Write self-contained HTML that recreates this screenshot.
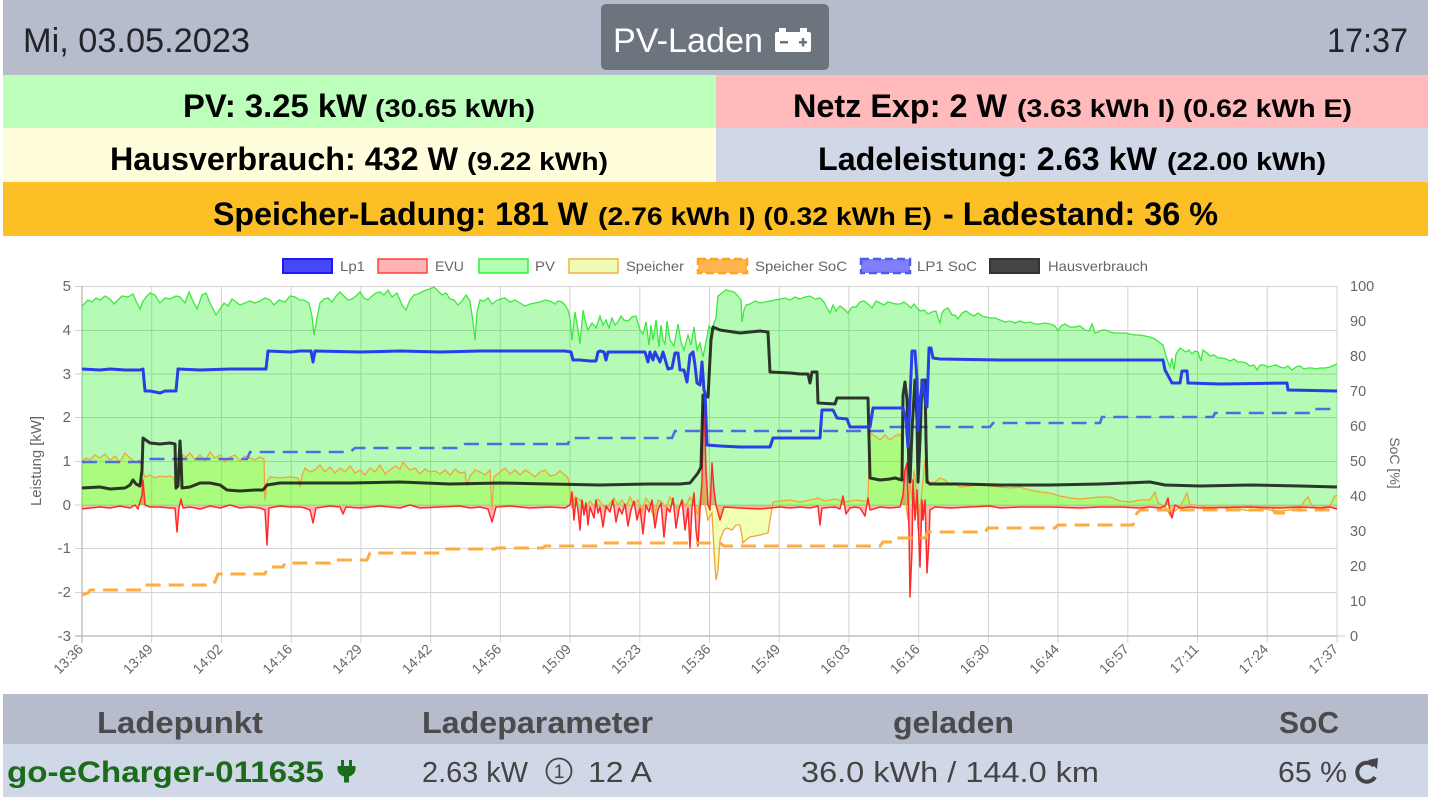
<!DOCTYPE html>
<html><head><meta charset="utf-8"><style>
html,body{margin:0;padding:0;background:#fff;width:1436px;height:797px;overflow:hidden}
svg{display:block}
text{font-family:"Liberation Sans","DejaVu Sans",sans-serif}
.b{font-weight:bold}
</style></head><body>
<svg width="1436" height="797" viewBox="0 0 1436 797" xmlns="http://www.w3.org/2000/svg">
<!-- header -->
<rect x="3" y="0" width="1425" height="75" fill="#b6bccb"/>
<text x="23" y="52" font-size="34" fill="#212529" textLength="227" lengthAdjust="spacingAndGlyphs">Mi, 03.05.2023</text>
<rect x="601" y="4" width="228" height="66" rx="5" fill="#6c757d"/>
<text x="613" y="52" font-size="34" fill="#fff" textLength="150" lengthAdjust="spacingAndGlyphs">PV-Laden</text>
<rect x="779" y="28" width="7" height="5" fill="#fff"/>
<rect x="800" y="28" width="7" height="5" fill="#fff"/>
<rect x="775" y="32" width="36" height="20" rx="2" fill="#fff"/>
<rect x="780" y="41" width="8" height="2.5" fill="#6c757d"/>
<rect x="799" y="41" width="8" height="2.5" fill="#6c757d"/>
<rect x="801.8" y="38" width="2.5" height="8.5" fill="#6c757d"/>
<text x="1327" y="52" font-size="34" fill="#212529" textLength="81" lengthAdjust="spacingAndGlyphs">17:37</text>

<!-- rows -->
<rect x="3" y="75" width="713" height="53" fill="#bbffbb"/>
<rect x="716" y="75" width="712" height="53" fill="#ffbbbb"/>
<rect x="3" y="128" width="713" height="54" fill="#fffddc"/>
<rect x="716" y="128" width="712" height="54" fill="#d0d7e7"/>
<rect x="3" y="182" width="1425" height="54" fill="#fcbf26"/>

<text class="b" x="183" y="117" font-size="32" fill="#000" textLength="184" lengthAdjust="spacingAndGlyphs">PV: 3.25 kW</text>
<text class="b" x="375" y="117" font-size="25" fill="#000" textLength="160" lengthAdjust="spacingAndGlyphs">(30.65 kWh)</text>
<text class="b" x="793" y="117" font-size="32" fill="#000" textLength="214" lengthAdjust="spacingAndGlyphs">Netz Exp: 2 W</text>
<text class="b" x="1017" y="117" font-size="25" fill="#000" textLength="335" lengthAdjust="spacingAndGlyphs">(3.63 kWh I) (0.62 kWh E)</text>

<text class="b" x="110" y="170" font-size="32" fill="#000" textLength="348" lengthAdjust="spacingAndGlyphs">Hausverbrauch: 432 W</text>
<text class="b" x="467" y="170" font-size="25" fill="#000" textLength="141" lengthAdjust="spacingAndGlyphs">(9.22 kWh)</text>
<text class="b" x="818" y="170" font-size="32" fill="#000" textLength="339" lengthAdjust="spacingAndGlyphs">Ladeleistung: 2.63 kW</text>
<text class="b" x="1167" y="170" font-size="25" fill="#000" textLength="159" lengthAdjust="spacingAndGlyphs">(22.00 kWh)</text>

<text class="b" x="213" y="225" font-size="32" fill="#000" textLength="375" lengthAdjust="spacingAndGlyphs">Speicher-Ladung: 181 W</text>
<text class="b" x="598" y="225" font-size="25" fill="#000" textLength="334" lengthAdjust="spacingAndGlyphs">(2.76 kWh I) (0.32 kWh E)</text>
<text class="b" x="943" y="225" font-size="32" fill="#000" textLength="275" lengthAdjust="spacingAndGlyphs">- Ladestand: 36 %</text>

<!-- legend -->
<g font-size="14" fill="#666">
<rect x="283" y="259" width="49" height="14" fill="#4747f5" stroke="#1a1aff" stroke-width="2"/>
<text x="340" y="271" textLength="25" lengthAdjust="spacingAndGlyphs">Lp1</text>
<rect x="378" y="259" width="49" height="14" fill="#ffb3b3" stroke="#ff4040" stroke-width="1.5"/>
<text x="435" y="271" textLength="29" lengthAdjust="spacingAndGlyphs">EVU</text>
<rect x="479" y="259" width="49" height="14" fill="#b3ffb3" stroke="#33ee33" stroke-width="1.5"/>
<text x="535" y="271" textLength="20" lengthAdjust="spacingAndGlyphs">PV</text>
<rect x="569" y="259" width="49" height="14" fill="#eefcb3" stroke="#f5b042" stroke-width="1.5"/>
<text x="626" y="271" textLength="58" lengthAdjust="spacingAndGlyphs">Speicher</text>
<rect x="698" y="259" width="49" height="14" fill="#ffb54d" stroke="#ffa31a" stroke-width="2.5" stroke-dasharray="8 4"/>
<text x="755" y="271" textLength="92" lengthAdjust="spacingAndGlyphs">Speicher SoC</text>
<rect x="861" y="259" width="49" height="14" fill="#7f7ff9" stroke="#4a5fe8" stroke-width="2.5" stroke-dasharray="8 4"/>
<text x="917" y="271" textLength="60" lengthAdjust="spacingAndGlyphs">LP1 SoC</text>
<rect x="990" y="259" width="49" height="14" fill="#444" stroke="#333" stroke-width="2"/>
<text x="1048" y="271" textLength="100" lengthAdjust="spacingAndGlyphs">Hausverbrauch</text>
</g>

<!-- grid -->
<g stroke="#d2d2d2" stroke-width="1">
<line x1="75" y1="286.5" x2="1337" y2="286.5"/>
<line x1="75" y1="330.5" x2="1337" y2="330.5"/>
<line x1="75" y1="374" x2="1337" y2="374"/>
<line x1="75" y1="417.5" x2="1337" y2="417.5"/>
<line x1="75" y1="461.5" x2="1337" y2="461.5"/>
<line x1="75" y1="505" x2="1337" y2="505"/>
<line x1="75" y1="548.5" x2="1337" y2="548.5"/>
<line x1="75" y1="592.5" x2="1337" y2="592.5"/>
<line x1="151.7" y1="286" x2="151.7" y2="643"/>
<line x1="221.4" y1="286" x2="221.4" y2="643"/>
<line x1="291.2" y1="286" x2="291.2" y2="643"/>
<line x1="360.9" y1="286" x2="360.9" y2="643"/>
<line x1="430.6" y1="286" x2="430.6" y2="643"/>
<line x1="500.3" y1="286" x2="500.3" y2="643"/>
<line x1="570" y1="286" x2="570" y2="643"/>
<line x1="639.8" y1="286" x2="639.8" y2="643"/>
<line x1="709.5" y1="286" x2="709.5" y2="643"/>
<line x1="779.2" y1="286" x2="779.2" y2="643"/>
<line x1="848.9" y1="286" x2="848.9" y2="643"/>
<line x1="918.6" y1="286" x2="918.6" y2="643"/>
<line x1="988.4" y1="286" x2="988.4" y2="643"/>
<line x1="1058" y1="286" x2="1058" y2="643"/>
<line x1="1127.8" y1="286" x2="1127.8" y2="643"/>
<line x1="1197.5" y1="286" x2="1197.5" y2="643"/>
<line x1="1267.2" y1="286" x2="1267.2" y2="643"/>
<line x1="1337" y1="286" x2="1337" y2="643"/>
<line x1="1337" y1="636" x2="1345" y2="636"/>
</g>
<g stroke="#b5b5b5" stroke-width="1.2">
<line x1="82" y1="286" x2="82" y2="643"/>
<line x1="75" y1="636" x2="1337" y2="636"/>
</g>

<!-- ===== FILLS ===== -->
<!-- Speicher fill -->
<polygon fill="rgba(205,255,0,0.3)" stroke="none" points="82,505 82,462 86,458 90,460 95,455 100,458 105,454 110,460 115,456 120,462 125,453 130,458 135,462 140,460 143,472 145,477 150,475 155,478 160,476 165,477 170,476 174,478 176,490 178,484 180,470 182,455 186,457 190,453 195,460 200,455 205,461 210,452 215,458 220,455 225,462 230,457 235,455 240,461 245,456 250,458 255,460 260,457 264,459 265,500 267,482 270,477 280,478 290,477 298,478 300,487 302,476 305,468 310,472 315,470 320,465 325,472 330,467 335,473 340,468 345,472 350,466 355,473 360,470 365,475 370,468 375,472 380,465 385,474 390,470 395,466 400,469 403,462 406,466 410,470 415,468 420,474 425,469 430,472 435,471 440,474 445,470 450,475 455,469 460,473 465,472 467,486 470,476 475,470 480,472 485,475 490,470 492,510 494,477 500,472 505,468 510,474 515,470 520,475 525,470 530,473 535,477 540,472 545,470 550,476 555,475 560,471 565,475 568,478 570,490 572,508 575,497 580,500 585,510 590,501 594,506 598,499 602,504 606,510 610,503 614,498 618,505 622,500 626,507 630,497 634,505 638,500 642,512 646,498 650,504 654,520 658,500 662,502 666,508 670,497 674,503 678,512 682,500 686,506 690,497 694,505 698,515 700,500 703,480 705,505 708,520 712,513 714,550 716,580 718,570 720,540 724,530 727,528 732,530 736,525 740,525 742,536 743,543 746,540 750,537 760,535 768,533 770,520 773,502 780,501 790,500 800,502 810,500 818,498 825,501 835,499 845,502 855,500 865,501 868,500 870,433 875,436 880,440 885,435 890,440 895,436 900,434 902,440 903,480 906,505 908,520 910,480 912,500 914,470 916,485 918,530 920,510 922,490 925,460 928,480 930,483 935,482 940,478 945,480 950,485 955,483 960,487 970,486 980,484 990,486 1000,487 1010,488 1020,487 1030,490 1040,492 1050,493 1060,496 1070,498 1080,499 1090,498 1100,497 1110,497 1120,501 1130,502 1140,500 1150,500 1155,492 1158,503 1162,505 1166,508 1170,515 1172,510 1175,511 1180,507 1185,497 1187,493 1190,505 1195,505 1200,506 1210,508 1220,507 1230,509 1240,509 1250,511 1260,508 1270,510 1280,511 1290,510 1300,508 1305,500 1308,497 1312,506 1320,509 1330,506 1334,497 1337,495 1337,505"/>
<!-- PV fill -->
<polygon fill="rgba(0,240,0,0.29)" stroke="none" points="82,505 82,306 88,300 92,302 96,298 100,300 105,296 110,299 114,304 118,300 122,296 128,297 133,294 137,303 140,309 143,301 147,296 150,293 155,295 160,303 165,298 170,299 176,296 180,297 185,303 189,292 193,301 197,309 202,295 206,293 210,303 214,311 216,315 220,309 224,303 228,306 232,299 236,302 240,305 245,303 250,301 255,303 260,301 265,298 270,300 274,305 279,300 285,302 290,296 295,297 300,300 304,300 309,303 312,316 314,335 317,318 320,303 324,299 328,298 332,302 336,296 340,292 344,296 348,300 352,299 356,296 360,292 364,298 368,300 372,296 376,293 380,292 384,295 388,290 392,297 397,293 402,305 406,310 410,300 414,295 418,294 422,292 426,290 430,289 434,287 438,291 442,295 446,293 450,299 454,300 458,305 462,301 466,295 470,301 473,322 475,340 477,312 480,300 484,301 488,298 492,304 496,301 500,299 505,298 510,302 515,300 520,303 525,306 530,304 535,303 540,302 545,300 550,301 555,304 558,301 562,302 565,305 568,310 570,318 572,340 575,312 578,330 580,344 583,310 585,320 588,330 592,323 596,328 600,316 603,325 606,320 609,328 612,318 615,325 618,322 621,316 624,320 628,321 632,317 636,316 640,330 643,334 646,322 649,345 651,325 653,340 656,320 659,347 661,325 663,340 665,344 667,321 670,340 674,346 678,324 681,342 684,350 688,335 691,345 694,327 697,350 700,343 703,357 706,342 709,326 712,330 714,323 716,318 718,296 722,293 726,290 730,291 734,292 738,296 741,300 742,322 744,310 746,305 750,304 755,301 760,303 765,302 770,301 775,300 780,299 785,298 790,300 795,297 800,299 805,297 810,296 815,299 820,298 824,302 827,308 830,313 833,305 836,311 840,306 844,309 848,313 852,307 856,307 860,302 864,301 868,304 872,308 876,301 880,303 884,305 888,302 892,303 896,304 900,304 904,302 908,305 911,308 914,304 917,308 920,311 924,310 928,314 932,312 936,311 938,318 940,323 942,313 944,310 948,308 952,315 955,315 958,319 962,313 966,311 970,314 974,316 978,313 982,316 986,317 990,318 995,318 1000,320 1005,322 1010,321 1015,323 1020,321 1025,323 1030,322 1035,324 1040,324 1045,323 1050,324 1055,326 1058,331 1061,326 1065,324 1070,327 1075,327 1080,326 1085,330 1089,331 1092,324 1095,333 1098,332 1102,330 1106,330 1110,332 1115,333 1120,333 1125,333 1130,334 1135,335 1140,335 1145,336 1150,337 1155,339 1160,343 1163,345 1166,356 1168,362 1170,367 1172,358 1174,370 1176,354 1180,348 1183,350 1186,352 1189,350 1192,354 1195,351 1198,352 1201,361 1203,350 1207,353 1210,356 1214,355 1218,358 1222,358 1226,359 1230,361 1234,359 1238,362 1242,362 1246,363 1250,366 1254,365 1257,370 1260,365 1264,365 1268,367 1272,366 1276,365 1280,367 1284,368 1288,366 1292,370 1296,367 1300,366 1304,369 1308,368 1312,368 1316,369 1320,368 1325,368 1330,367 1337,364 1337,505"/>
<!-- EVU fill -->
<polygon fill="rgba(255,20,20,0.3)" stroke="none" points="82,505 82,509 90,508 100,507 110,508 120,506 130,508 135,505 138,509 142,495 143,480 145,505 150,507 160,507 170,508 175,508 177,532 179,508 181,499 183,508 190,507 200,509 210,506 220,508 230,505 240,508 250,507 260,508 265,510 267,545 269,508 280,506 290,507 300,507 305,508 310,510 313,523 316,508 330,506 340,507 343,514 346,507 360,508 380,506 400,508 410,505 420,508 440,507 460,506 470,508 480,507 488,509 492,522 496,507 510,506 530,508 550,507 565,508 570,505 572,492 574,520 576,498 578,510 580,530 582,500 584,515 586,503 588,525 590,507 594,518 596,500 598,513 600,507 603,527 606,506 610,512 613,500 616,522 619,508 622,514 625,504 628,526 631,510 634,501 637,520 640,508 643,534 646,505 649,512 652,500 655,528 658,510 661,503 664,537 667,508 670,512 673,498 676,528 679,509 682,500 685,530 688,508 690,548 692,508 694,493 696,530 698,546 700,510 702,480 703,430 704,403 706,470 708,505 710,510 712,463 714,490 716,505 720,520 724,507 740,508 760,509 770,508 780,507 790,508 800,507 810,508 818,506 820,525 822,508 835,507 840,509 843,496 846,514 850,508 855,507 860,508 865,516 868,498 870,510 880,507 890,508 900,507 903,495 905,470 907,463 909,530 910,597 912,550 913,480 915,520 917,490 920,567 922,500 923,520 925,500 927,573 929,540 930,510 935,507 950,508 970,507 990,506 1000,508 1020,507 1050,507 1080,508 1100,507 1120,507 1140,508 1150,507 1160,508 1165,506 1168,498 1170,512 1172,518 1175,505 1180,508 1190,507 1200,508 1250,507 1280,508 1300,507 1320,508 1330,507 1337,509 1337,505"/>

<!-- ===== LINES ===== -->
<!-- Speicher line -->
<polyline fill="none" stroke="#f2a43a" stroke-width="1.3" points="82,462 86,458 90,460 95,455 100,458 105,454 110,460 115,456 120,462 125,453 130,458 135,462 140,460 143,472 145,477 150,475 155,478 160,476 165,477 170,476 174,478 176,490 178,484 180,470 182,455 186,457 190,453 195,460 200,455 205,461 210,452 215,458 220,455 225,462 230,457 235,455 240,461 245,456 250,458 255,460 260,457 264,459 265,500 267,482 270,477 280,478 290,477 298,478 300,487 302,476 305,468 310,472 315,470 320,465 325,472 330,467 335,473 340,468 345,472 350,466 355,473 360,470 365,475 370,468 375,472 380,465 385,474 390,470 395,466 400,469 403,462 406,466 410,470 415,468 420,474 425,469 430,472 435,471 440,474 445,470 450,475 455,469 460,473 465,472 467,486 470,476 475,470 480,472 485,475 490,470 492,510 494,477 500,472 505,468 510,474 515,470 520,475 525,470 530,473 535,477 540,472 545,470 550,476 555,475 560,471 565,475 568,478 570,490 572,508 575,497 580,500 585,510 590,501 594,506 598,499 602,504 606,510 610,503 614,498 618,505 622,500 626,507 630,497 634,505 638,500 642,512 646,498 650,504 654,520 658,500 662,502 666,508 670,497 674,503 678,512 682,500 686,506 690,497 694,505 698,515 700,500 703,480 705,505 708,520 712,513 714,550 716,580 718,570 720,540 724,530 727,528 732,530 736,525 740,525 742,536 743,543 746,540 750,537 760,535 768,533 770,520 773,502 780,501 790,500 800,502 810,500 818,498 825,501 835,499 845,502 855,500 865,501 868,500 870,433 875,436 880,440 885,435 890,440 895,436 900,434 902,440 903,480 906,505 908,520 910,480 912,500 914,470 916,485 918,530 920,510 922,490 925,460 928,480 930,483 935,482 940,478 945,480 950,485 955,483 960,487 970,486 980,484 990,486 1000,487 1010,488 1020,487 1030,490 1040,492 1050,493 1060,496 1070,498 1080,499 1090,498 1100,497 1110,497 1120,501 1130,502 1140,500 1150,500 1155,492 1158,503 1162,505 1166,508 1170,515 1172,510 1175,511 1180,507 1185,497 1187,493 1190,505 1195,505 1200,506 1210,508 1220,507 1230,509 1240,509 1250,511 1260,508 1270,510 1280,511 1290,510 1300,508 1305,500 1308,497 1312,506 1320,509 1330,506 1334,497 1337,495"/>
<!-- PV line -->
<polyline fill="none" stroke="#3ee83e" stroke-width="1.3" points="82,306 88,300 92,302 96,298 100,300 105,296 110,299 114,304 118,300 122,296 128,297 133,294 137,303 140,309 143,301 147,296 150,293 155,295 160,303 165,298 170,299 176,296 180,297 185,303 189,292 193,301 197,309 202,295 206,293 210,303 214,311 216,315 220,309 224,303 228,306 232,299 236,302 240,305 245,303 250,301 255,303 260,301 265,298 270,300 274,305 279,300 285,302 290,296 295,297 300,300 304,300 309,303 312,316 314,335 317,318 320,303 324,299 328,298 332,302 336,296 340,292 344,296 348,300 352,299 356,296 360,292 364,298 368,300 372,296 376,293 380,292 384,295 388,290 392,297 397,293 402,305 406,310 410,300 414,295 418,294 422,292 426,290 430,289 434,287 438,291 442,295 446,293 450,299 454,300 458,305 462,301 466,295 470,301 473,322 475,340 477,312 480,300 484,301 488,298 492,304 496,301 500,299 505,298 510,302 515,300 520,303 525,306 530,304 535,303 540,302 545,300 550,301 555,304 558,301 562,302 565,305 568,310 570,318 572,340 575,312 578,330 580,344 583,310 585,320 588,330 592,323 596,328 600,316 603,325 606,320 609,328 612,318 615,325 618,322 621,316 624,320 628,321 632,317 636,316 640,330 643,334 646,322 649,345 651,325 653,340 656,320 659,347 661,325 663,340 665,344 667,321 670,340 674,346 678,324 681,342 684,350 688,335 691,345 694,327 697,350 700,343 703,357 706,342 709,326 712,330 714,323 716,318 718,296 722,293 726,290 730,291 734,292 738,296 741,300 742,322 744,310 746,305 750,304 755,301 760,303 765,302 770,301 775,300 780,299 785,298 790,300 795,297 800,299 805,297 810,296 815,299 820,298 824,302 827,308 830,313 833,305 836,311 840,306 844,309 848,313 852,307 856,307 860,302 864,301 868,304 872,308 876,301 880,303 884,305 888,302 892,303 896,304 900,304 904,302 908,305 911,308 914,304 917,308 920,311 924,310 928,314 932,312 936,311 938,318 940,323 942,313 944,310 948,308 952,315 955,315 958,319 962,313 966,311 970,314 974,316 978,313 982,316 986,317 990,318 995,318 1000,320 1005,322 1010,321 1015,323 1020,321 1025,323 1030,322 1035,324 1040,324 1045,323 1050,324 1055,326 1058,331 1061,326 1065,324 1070,327 1075,327 1080,326 1085,330 1089,331 1092,324 1095,333 1098,332 1102,330 1106,330 1110,332 1115,333 1120,333 1125,333 1130,334 1135,335 1140,335 1145,336 1150,337 1155,339 1160,343 1163,345 1166,356 1168,362 1170,367 1172,358 1174,370 1176,354 1180,348 1183,350 1186,352 1189,350 1192,354 1195,351 1198,352 1201,361 1203,350 1207,353 1210,356 1214,355 1218,358 1222,358 1226,359 1230,361 1234,359 1238,362 1242,362 1246,363 1250,366 1254,365 1257,370 1260,365 1264,365 1268,367 1272,366 1276,365 1280,367 1284,368 1288,366 1292,370 1296,367 1300,366 1304,369 1308,368 1312,368 1316,369 1320,368 1325,368 1330,367 1337,364"/>
<!-- EVU line -->
<polyline fill="none" stroke="#ff2a2a" stroke-width="1.5" stroke-linejoin="round" points="82,509 90,508 100,507 110,508 120,506 130,508 135,505 138,509 142,495 143,480 145,505 150,507 160,507 170,508 175,508 177,532 179,508 181,499 183,508 190,507 200,509 210,506 220,508 230,505 240,508 250,507 260,508 265,510 267,545 269,508 280,506 290,507 300,507 305,508 310,510 313,523 316,508 330,506 340,507 343,514 346,507 360,508 380,506 400,508 410,505 420,508 440,507 460,506 470,508 480,507 488,509 492,522 496,507 510,506 530,508 550,507 565,508 570,505 572,492 574,520 576,498 578,510 580,530 582,500 584,515 586,503 588,525 590,507 594,518 596,500 598,513 600,507 603,527 606,506 610,512 613,500 616,522 619,508 622,514 625,504 628,526 631,510 634,501 637,520 640,508 643,534 646,505 649,512 652,500 655,528 658,510 661,503 664,537 667,508 670,512 673,498 676,528 679,509 682,500 685,530 688,508 690,548 692,508 694,493 696,530 698,546 700,510 702,480 703,430 704,403 706,470 708,505 710,510 712,463 714,490 716,505 720,520 724,507 740,508 760,509 770,508 780,507 790,508 800,507 810,508 818,506 820,525 822,508 835,507 840,509 843,496 846,514 850,508 855,507 860,508 865,516 868,498 870,510 880,507 890,508 900,507 903,495 905,470 907,463 909,530 910,597 912,550 913,480 915,520 917,490 920,567 922,500 923,520 925,500 927,573 929,540 930,510 935,507 950,508 970,507 990,506 1000,508 1020,507 1050,507 1080,508 1100,507 1120,507 1140,508 1150,507 1160,508 1165,506 1168,498 1170,512 1172,518 1175,505 1180,508 1190,507 1200,508 1250,507 1280,508 1300,507 1320,508 1330,507 1337,509"/>

<!-- Speicher SoC -->
<polyline fill="none" stroke="#ffab40" stroke-width="3" stroke-dasharray="15 8" points="82,595 88,593 90,590 143,590 145,585 210,585 212,582 215,582 218,574 265,574 268,567 283,567 285,563 330,563 332,560 367,560 370,553 440,553 443,549 495,549 497,548 543,548 545,546 600,546 603,543 720,543 724,546 880,546 883,542 895,542 897,538 925,538 928,532 985,532 988,528 1055,528 1058,525 1133,525 1137,513 1140,510 1273,510 1275,513 1287,513 1290,510 1337,510"/>
<!-- LP1 SoC -->
<polyline fill="none" stroke="#4f6de0" stroke-width="2.6" stroke-dasharray="15 8" points="82,462 143,462 145,459 247,459 250,452 350,452 355,448 460,448 465,444 568,444 570,438 672,438 675,431 885,431 887,427 990,427 993,423 1100,423 1102,417 1213,417 1215,413 1313,413 1315,409 1337,409"/>

<!-- Hausverbrauch -->
<polyline fill="none" stroke="rgba(20,20,20,0.85)" stroke-width="3" stroke-linejoin="round" points="82,488 100,487 110,489 125,488 130,485 133,480 136,484 140,486 142,470 143,438 150,443 160,444 170,443 175,444 176,488 178,486 179,460 180,441 181,458 182,488 190,487 200,483 210,483 220,485 227,490 240,491 255,490 263,490 267,485 280,483 300,483 350,483 400,482 450,484 500,483 550,484 600,485 650,484 680,484 690,483 694,478 698,473 701,467 703,395 706,396 708,397 711,340 713,327 720,330 740,333 760,331 768,332 770,372 790,373 800,374 808,374 810,383 812,372 817,372 818,403 835,404 837,398 840,398 860,398 868,398 870,478 880,480 890,479 895,478 902,480 903,395 905,382 907,400 909,470 910,482 912,430 915,380 917,420 918,482 920,440 922,380 925,380 926,440 927,482 930,484 960,484 1000,485 1050,485 1100,484 1150,482 1165,485 1200,486 1250,485 1300,486 1337,487"/>

<!-- Lp1 -->
<polyline fill="none" stroke="#2a3de6" stroke-width="3" stroke-linejoin="round" points="82,369 100,370 110,369 125,370 140,370 143,369 145,391 150,391 160,393 165,391 176,391 178,369 200,370 230,369 266,369 268,351 290,352 300,351 311,351 313,362 315,351 360,352 400,351 440,352 480,351 520,351 565,351 571,352 573,360 580,360 590,361 596,361 598,352 600,351 604,352 606,360 608,352 640,352 645,352 648,362 650,352 653,360 655,352 660,362 663,352 668,369 672,368 675,353 678,353 680,370 684,370 687,382 690,355 693,352 695,365 697,383 700,385 702,362 704,390 705,393 707,445 720,446 740,447 760,447 770,447 773,438 800,438 820,438 822,410 833,410 837,418 847,419 850,427 870,427 873,408 903,408 906,420 908,447 910,400 912,351 915,351 917,380 918,430 920,400 923,380 925,400 927,407 929,348 931,348 933,358 940,359 1000,360 1100,360 1163,360 1165,370 1172,383 1180,383 1182,371 1187,371 1188,383 1220,384 1287,383 1288,390 1337,391"/>

<!-- axis labels -->
<g font-size="15" fill="#666" text-anchor="end">
<text x="71" y="291">5</text>
<text x="71" y="335">4</text>
<text x="71" y="379">3</text>
<text x="71" y="422">2</text>
<text x="71" y="466">1</text>
<text x="71" y="510">0</text>
<text x="71" y="553">-1</text>
<text x="71" y="597">-2</text>
<text x="71" y="641">-3</text>
</g>
<g font-size="14.5" fill="#666">
<text x="1350" y="291">100</text>
<text x="1350" y="326">90</text>
<text x="1350" y="361">80</text>
<text x="1350" y="396">70</text>
<text x="1350" y="431">60</text>
<text x="1350" y="466">50</text>
<text x="1350" y="501">40</text>
<text x="1350" y="536">30</text>
<text x="1350" y="571">20</text>
<text x="1350" y="606">10</text>
<text x="1350" y="641">0</text>
</g>
<text x="41" y="461" font-size="14.5" fill="#666" text-anchor="middle" transform="rotate(-90 41 461)" textLength="90" lengthAdjust="spacingAndGlyphs">Leistung [kW]</text>
<text x="1390" y="463" font-size="14" fill="#666" text-anchor="middle" transform="rotate(90 1390 463)">SoC [%]</text>

<g font-size="14" fill="#666" text-anchor="end">
<text x="84" y="650" transform="rotate(-45 84 650)">13:36</text>
<text x="153.7" y="650" transform="rotate(-45 153.7 650)">13:49</text>
<text x="223.4" y="650" transform="rotate(-45 223.4 650)">14:02</text>
<text x="293.2" y="650" transform="rotate(-45 293.2 650)">14:16</text>
<text x="362.9" y="650" transform="rotate(-45 362.9 650)">14:29</text>
<text x="432.6" y="650" transform="rotate(-45 432.6 650)">14:42</text>
<text x="502.3" y="650" transform="rotate(-45 502.3 650)">14:56</text>
<text x="572" y="650" transform="rotate(-45 572 650)">15:09</text>
<text x="641.8" y="650" transform="rotate(-45 641.8 650)">15:23</text>
<text x="711.5" y="650" transform="rotate(-45 711.5 650)">15:36</text>
<text x="781.2" y="650" transform="rotate(-45 781.2 650)">15:49</text>
<text x="850.9" y="650" transform="rotate(-45 850.9 650)">16:03</text>
<text x="920.6" y="650" transform="rotate(-45 920.6 650)">16:16</text>
<text x="990.4" y="650" transform="rotate(-45 990.4 650)">16:30</text>
<text x="1060" y="650" transform="rotate(-45 1060 650)">16:44</text>
<text x="1129.8" y="650" transform="rotate(-45 1129.8 650)">16:57</text>
<text x="1199.5" y="650" transform="rotate(-45 1199.5 650)">17:11</text>
<text x="1269.2" y="650" transform="rotate(-45 1269.2 650)">17:24</text>
<text x="1339" y="650" transform="rotate(-45 1339 650)">17:37</text>
</g>

<!-- table -->
<rect x="3" y="694" width="1425" height="50" fill="#b6bccb"/>
<rect x="3" y="744" width="1425" height="53" fill="#d0d7e7"/>
<g font-size="31" fill="#4b4b4b">
<text class="b" x="97" y="733" textLength="166" lengthAdjust="spacingAndGlyphs">Ladepunkt</text>
<text class="b" x="422" y="733" textLength="231" lengthAdjust="spacingAndGlyphs">Ladeparameter</text>
<text class="b" x="893" y="733" textLength="121" lengthAdjust="spacingAndGlyphs">geladen</text>
<text class="b" x="1279" y="733" textLength="60" lengthAdjust="spacingAndGlyphs">SoC</text>
</g>
<text class="b" x="7" y="782" font-size="30" fill="#1a6b1a" textLength="317" lengthAdjust="spacingAndGlyphs">go-eCharger-011635</text>
<g fill="#1a6b1a">
<rect x="341" y="760" width="3" height="7"/>
<rect x="349" y="760" width="3" height="7"/>
<path d="M337.5,766 h18 v3 a9,8 0 0 1 -6.5,7.5 v6 h-5 v-6 a9,8 0 0 1 -6.5,-7.5 z"/>
</g>
<g font-size="29" fill="#444">
<text x="422" y="782" textLength="106" lengthAdjust="spacingAndGlyphs">2.63 kW</text>
<text x="588" y="782" textLength="64" lengthAdjust="spacingAndGlyphs">12 A</text>
<text x="801" y="782" textLength="298" lengthAdjust="spacingAndGlyphs">36.0 kWh / 144.0 km</text>
<text x="1278" y="782" textLength="69" lengthAdjust="spacingAndGlyphs">65 %</text>
</g>
<circle cx="559" cy="771" r="12.5" fill="none" stroke="#444" stroke-width="1.8"/>
<text x="559" y="778" font-size="19" fill="#444" text-anchor="middle">1</text>
<path d="M1374,766 A9.5,9.5 0 1 0 1375,777" fill="none" stroke="#444" stroke-width="4"/>
<polygon points="1368,760 1378,758 1377,769" fill="#444"/>
</svg>
</body></html>
